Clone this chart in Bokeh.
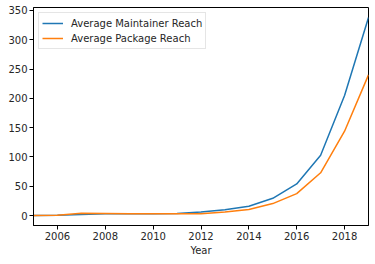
from bokeh.plotting import figure
from bokeh.models import Range1d, FixedTicker, Legend, LegendItem
from bokeh.embed import file_html
from bokeh.resources import INLINE

years = [2005, 2006, 2007, 2008, 2009, 2010, 2011, 2012, 2013, 2014, 2015, 2016, 2017, 2018, 2019]
maintainer_reach = [0, 0.5, 2, 3, 3, 3, 3.5, 6, 10, 16, 29.5, 54, 103, 205, 338]
package_reach = [0, 0.5, 4, 3.5, 3, 3, 3, 3, 6, 10.5, 20.5, 37.5, 73, 144, 240]
x_ticks = [2006, 2008, 2010, 2012, 2014, 2016, 2018]
y_ticks = [0, 50, 100, 150, 200, 250, 300, 350]

FONT = "DejaVu Sans"

p = figure(frame_width=335, frame_height=218, output_backend="svg", toolbar_location=None,
           x_range=Range1d(2005, 2019), y_range=Range1d(-16.9, 355),
           min_border_left=33, min_border_top=7, min_border_right=5, min_border_bottom=0)
p.background_fill_color = "white"
p.border_fill_color = "white"
p.outline_line_color = "black"
p.outline_line_width = 1
p.grid.visible = False

l1 = p.line(years, maintainer_reach, line_color="#1f77b4", line_width=1.5)
l2 = p.line(years, package_reach, line_color="#ff7f0e", line_width=1.5)

for ax in (p.xaxis[0], p.yaxis[0]):
    ax.major_label_text_font = FONT
    ax.major_label_text_font_size = "10px"
    ax.major_label_text_color = "#262626"
    ax.axis_label_text_font = FONT
    ax.axis_label_text_font_size = "10px"
    ax.axis_label_text_font_style = "normal"
    ax.axis_label_text_color = "#262626"
    ax.major_tick_out = 4
    ax.major_tick_in = 0
    ax.minor_tick_out = 0
    ax.minor_tick_in = 0
    ax.axis_line_color = "black"
    ax.major_tick_line_color = "black"
    ax.major_label_standoff = 2

p.xaxis.ticker = FixedTicker(ticks=x_ticks)
p.yaxis.ticker = FixedTicker(ticks=y_ticks)
p.xaxis.axis_label = "Year"
p.xaxis.axis_label_standoff = 2

legend = Legend(items=[LegendItem(label="Average Maintainer Reach", renderers=[l1]),
                       LegendItem(label="Average Package Reach", renderers=[l2])],
                location="top_left")
legend.label_text_font = FONT
legend.label_text_font_size = "10px"
legend.label_text_color = "#262626"
legend.glyph_width = 21
legend.glyph_height = 14
legend.label_height = 14
legend.label_standoff = 8
legend.spacing = 1
legend.padding = 3
legend.margin = 5
legend.border_line_color = "#cccccc"
legend.background_fill_alpha = 0.8
p.add_layout(legend)

open("out.html", "w").write(file_html(p, INLINE))
